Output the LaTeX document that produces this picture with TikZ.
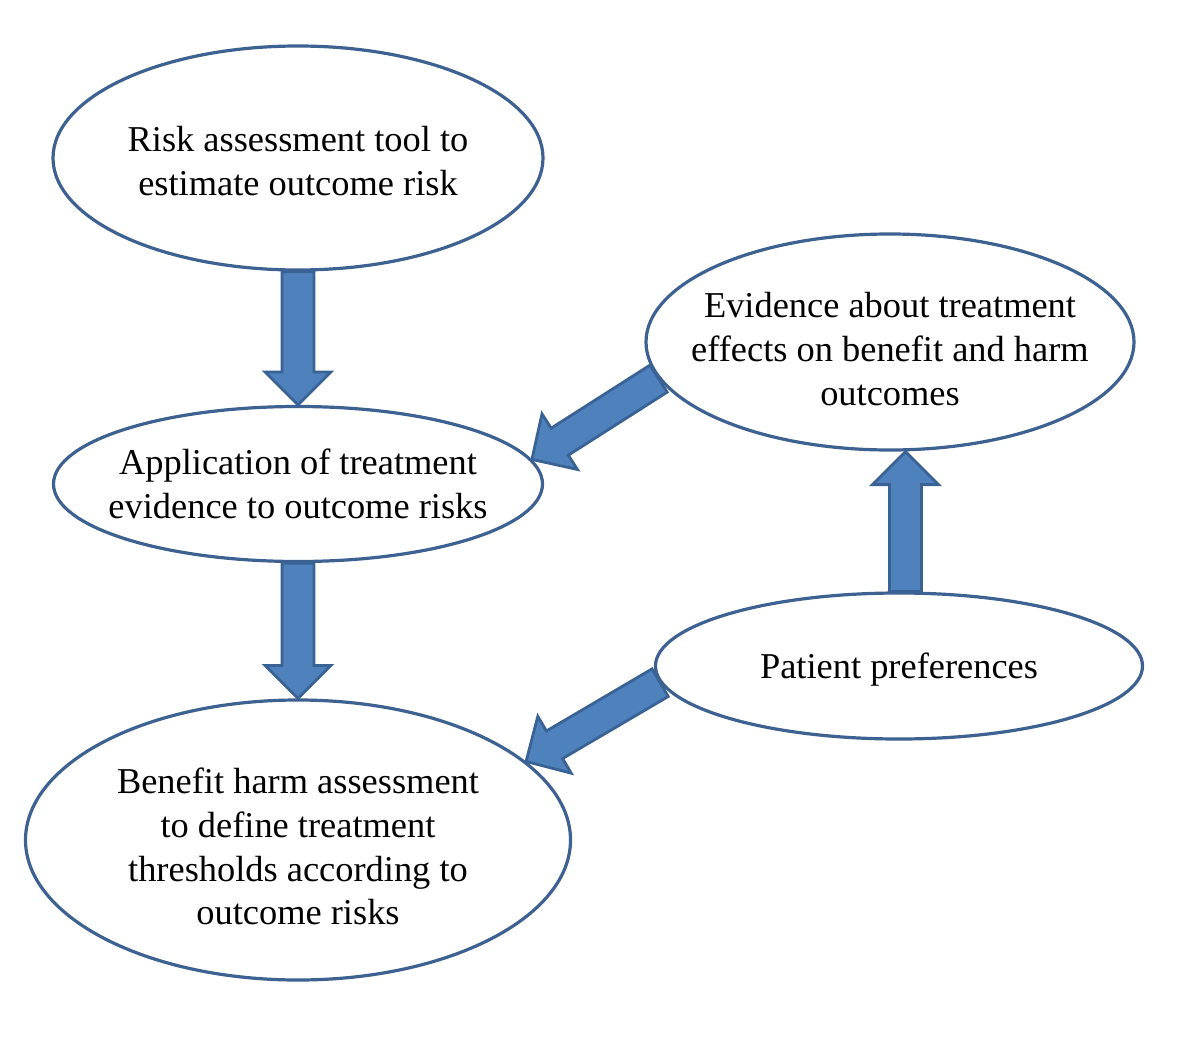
\documentclass[tikz,border=0pt]{standalone}
\usepackage{fontspec}
\setmainfont{Liberation Serif}
\usetikzlibrary{calc,shapes.geometric}
\definecolor{ellline}{HTML}{3D6190}
\definecolor{arrfill}{HTML}{4F81BD}
\definecolor{arrline}{HTML}{3A6395}
\tikzset{
  ell/.style={ellipse, draw=ellline, line width=2.4pt, fill=white, inner sep=0pt},
  lbl/.style={align=center, inner sep=0pt, font=\fontsize{27.3pt}{32.8pt}\selectfont},
  blockar/.style={fill=arrfill, draw=arrline, line width=2.1pt, line join=miter}
}
\newcommand\blockarrow[2]{%
  \coordinate (bhead) at ($(#2)!24.75pt!(#1)$);
  \draw[blockar] ($(#1)!12pt!90:(#2)$) -- ($(bhead)!12pt!-90:(#1)$) -- ($(bhead)!24.75pt!-90:(#1)$)
    -- (#2) -- ($(bhead)!24.75pt!90:(#1)$) -- ($(bhead)!12pt!90:(#1)$) -- ($(#1)!12pt!-90:(#2)$) -- cycle;
}
\begin{document}
\begin{tikzpicture}[x=0.75pt,y=-0.75pt]
\useasboundingbox (0,0) rectangle (1200,1042);
\node[ell, minimum width=367.5pt, minimum height=168pt,
  label={[lbl, yshift=-2.25pt]center:{Risk assessment tool to\\estimate outcome risk}}] (risk) at (298,158) {};
\node[ell, minimum width=366.75pt, minimum height=116.25pt,
  label={[lbl]center:{Application of treatment\\evidence to outcome risks}}] (app) at (298,484) {};
\node[ell, minimum width=408.75pt, minimum height=210pt,
  label={[lbl, yshift=-5pt]center:{Benefit harm assessment\\to define treatment\\thresholds according to\\outcome risks}}] (ben) at (298,840) {};
\node[ell, minimum width=366pt, minimum height=162pt,
  label={[lbl, yshift=-5.25pt]center:{Evidence about treatment\\effects on benefit and harm\\outcomes}}] (evid) at (890,342) {};
\node[ell, minimum width=365.25pt, minimum height=109.5pt,
  label={[lbl, yshift=-3pt]center:{Patient preferences}}] (pat) at (899,666) {};
\coordinate (a3tail) at (pat.85);
\coordinate (a3tip) at (evid.south -| a3tail);
\blockarrow{risk.south}{app.north}
\blockarrow{app.south}{ben.north}
\blockarrow{a3tail}{a3tip}
\blockarrow{evid.189}{app.6}
\blockarrow{pat.184}{ben.19}
\end{tikzpicture}
\end{document}
